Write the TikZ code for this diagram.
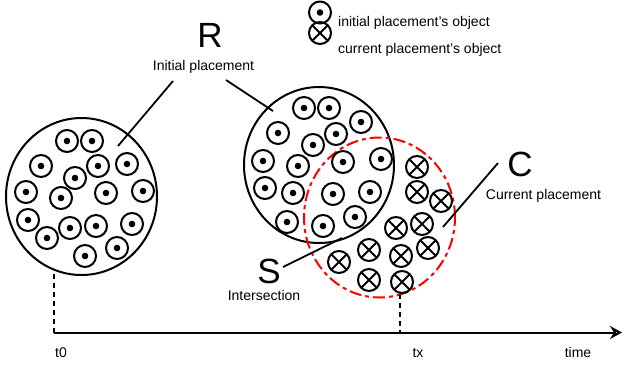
\documentclass[tikz,border=0pt]{standalone}
\usepackage{fontspec}
\setmainfont{Liberation Sans}
\usetikzlibrary{arrows.meta,shapes.geometric}
\begin{document}
\begin{tikzpicture}[x=1pt,y=-1pt,
  obj/.style={circle,draw,line width=2pt,minimum size=22pt,inner sep=0pt},
  dotobj/.style={obj,path picture={\fill (path picture bounding box.center) circle (3.3pt);}},
  crossobj/.style={obj,path picture={\draw[line width=2pt] (path picture bounding box.south west) -- (path picture bounding box.north east) (path picture bounding box.north west) -- (path picture bounding box.south east);}},
  region/.style={ellipse,draw,line width=2pt,inner sep=0pt},
  pointer/.style={line width=1.8pt},
  guide/.style={line width=2pt,dash pattern=on 5pt off 4pt},
  biglabel/.style={font=\fontsize{35}{40}\selectfont,inner sep=0pt},
  smalllabel/.style={font=\fontsize{14}{16}\selectfont,inner sep=0pt,anchor=base},
]
\useasboundingbox (0,0) rectangle (624,368);

% regions
\node[region,minimum width=151pt,minimum height=157pt] (L) at (81.5,196.5) {};
\node[region,minimum width=150pt,minimum height=156pt] (M) at (319,165) {};
\node[region,draw=red,dash pattern=on 12pt off 4pt on 4pt off 4pt,minimum width=151pt,minimum height=160pt] (Cur) at (379.5,217.5) {};

% left objects
\foreach \x/\y [count=\i] in {67/141,92/141,41/166,98/166,127/164,75/178,26/192,61/198,106/193,143/191,28/220,70/228,96/226,132/224,47/238,85/256,117/248}
  \node[dotobj] (l\i) at (\x,\y) {};

% middle objects
\foreach \x/\y [count=\i] in {304/108,329/108,361/122,278/133,336/134,313/145,263/161,298/166,343/162,381/159,265/188,293/193,333/194,370/192,287/222,323/226,355/217}
  \node[dotobj] (m\i) at (\x,\y) {};

% current objects
\foreach \x/\y [count=\i] in {417/167,417/192,441/201,396/228,422/224,339/262,369/250,401/256,428/248,369/280,402/282}
  \node[crossobj] (c\i) at (\x,\y) {};

% legend
\node[dotobj] (legdot) at (320,12.5) {};
\node[crossobj] (legcross) at (320,33) {};
\node[smalllabel,anchor=base west] (legt1) at (338,26.5) {initial placement's object};
\node[smalllabel,anchor=base west] (legt2) at (338,53) {current placement's object};

% labels
\node[biglabel] (R) at (210,35.5) {R};
\node[smalllabel] (Rt) at (203.5,70) {Initial placement};
\node[biglabel] (S) at (269,271) {S};
\node[smalllabel] (St) at (264,300) {Intersection};
\node[biglabel] (C) at (520,164) {C};
\node[smalllabel] (Ct) at (543.5,199) {Current placement};

% pointer lines
\coordinate (r1a) at (173,81);  \coordinate (r1b) at (118,146);
\coordinate (r2a) at (226,80);  \coordinate (r2b) at (273,111);
\coordinate (sa) at (283,267);  \coordinate (sb) at (342,238);
\coordinate (ca) at (498,163);  \coordinate (cb) at (443,227);
\draw[pointer] (r1a) -- (r1b);
\draw[pointer] (r2a) -- (r2b);
\draw[pointer] (sa) -- (sb);
\draw[pointer] (ca) -- (cb);

% time axis
\coordinate (t0top) at (54,274);
\coordinate (t0) at (54,332.5);
\coordinate (txtop) at (400,294);
\coordinate (tx) at (400,332.5);
\coordinate (tend) at (622,332.5);
\draw[guide] (t0top) -- (t0);
\draw[guide] (txtop) -- (tx);
\draw[line width=2pt,-{Stealth[open,length=12pt,width=13pt,inset=4pt]}] (t0) -- (tend);
\node[smalllabel] (t0l) at (61,357) {t0};
\node[smalllabel] (txl) at (418,357) {tx};
\node[smalllabel] (timel) at (578,357) {time};
\end{tikzpicture}
\end{document}
